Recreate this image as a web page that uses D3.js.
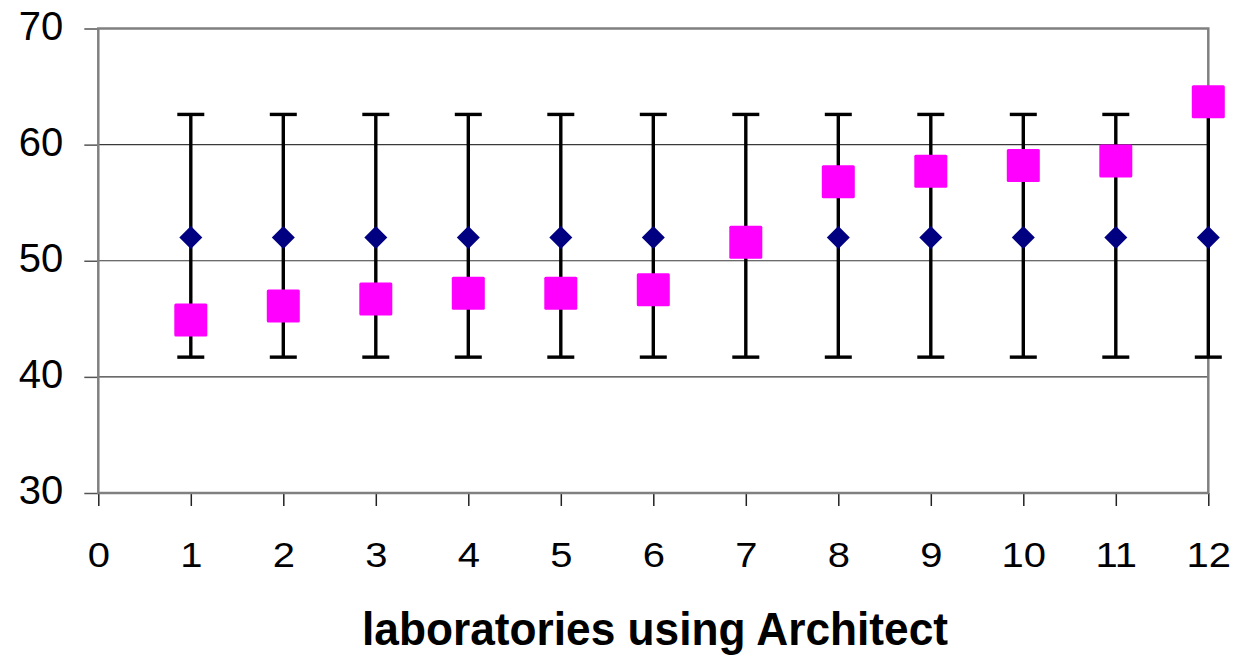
<!DOCTYPE html>
<html>
<head>
<meta charset="utf-8">
<script src="https://cdn.jsdelivr.net/npm/d3@7"></script>
<style>
  html, body { margin: 0; padding: 0; background: #ffffff; }
  svg { display: block; font-family: "Liberation Sans", Arial, sans-serif; }
</style>
</head>
<body>
<svg id="chart" width="1245" height="656"></svg>
<script>
// Laboratory results against the reference mean and its limits
const labs        = [1, 2, 3, 4, 5, 6, 7, 8, 9, 10, 11, 12];
const labValues   = [44.9, 46.1, 46.7, 47.2, 47.2, 47.5, 51.6, 56.8, 57.7, 58.2, 58.6, 63.7];
const meanValues  = [52.0, 52.0, 52.0, 52.0, 52.0, 52.0, 52.0, 52.0, 52.0, 52.0, 52.0, 52.0];
const upperLimits = [62.6, 62.6, 62.6, 62.6, 62.6, 62.6, 62.6, 62.6, 62.6, 62.6, 62.6, 62.6];
const lowerLimits = [41.7, 41.7, 41.7, 41.7, 41.7, 41.7, 41.7, 41.7, 41.7, 41.7, 41.7, 41.7];
const xTicks = [0, 1, 2, 3, 4, 5, 6, 7, 8, 9, 10, 11, 12];
const yTicks = [30, 40, 50, 60, 70];
const xTitle = "laboratories using Architect";

(function draw() {
  const svg = d3.select("#chart");
  const plotLeft = 98.3, plotRight = 1208.3, plotTop = 28.5, plotBottom = 493;

  const x = d3.scaleLinear().domain([0, 12]).range([plotLeft, plotRight]);
  const y = d3.scaleLinear().domain([30, 70]).range([plotBottom, plotTop]);

  // horizontal gridlines
  svg.append("g")
    .selectAll("line")
    .data(yTicks.filter(t => t > 30 && t < 70))
    .join("line")
    .attr("x1", plotLeft).attr("x2", plotRight)
    .attr("y1", d => y(d)).attr("y2", d => y(d))
    .attr("stroke", "#3a3a3a").attr("stroke-width", 1.2);

  // y axis
  const yAxis = svg.append("g")
    .attr("transform", `translate(${plotLeft},0)`)
    .call(d3.axisLeft(y).tickValues(yTicks).tickSize(14).tickPadding(21).tickFormat(d3.format("d")));
  yAxis.select(".domain").remove();
  yAxis.selectAll(".tick line").attr("stroke", "#555").attr("stroke-width", 1.5);
  yAxis.selectAll(".tick text")
    .attr("fill", "#000").attr("font-size", 40).attr("dy", "0.27em")
    .attr("font-family", "'Liberation Sans', Arial, sans-serif");

  // x axis
  const xAxis = svg.append("g")
    .attr("transform", `translate(0,${plotBottom})`)
    .call(d3.axisBottom(x).tickValues(xTicks).tickSize(13).tickFormat(d3.format("d")));
  xAxis.select(".domain").remove();
  xAxis.selectAll(".tick line").attr("stroke", "#222").attr("stroke-width", 1.5);
  xAxis.selectAll(".tick text")
    .attr("fill", "#000").attr("font-size", 40)
    .attr("font-family", "'Liberation Sans', Arial, sans-serif")
    .attr("y", 0).attr("dy", 0)
    .attr("transform", "translate(0,73.7) scale(1,0.86)");

  // plot frame
  svg.append("rect")
    .attr("x", plotLeft).attr("y", plotTop)
    .attr("width", plotRight - plotLeft).attr("height", plotBottom - plotTop)
    .attr("fill", "none").attr("stroke", "#808080").attr("stroke-width", 2.5);

  // limit bars
  const rows = labs.map((lab, i) => ({
    lab, value: labValues[i], mean: meanValues[i], hi: upperLimits[i], lo: lowerLimits[i]
  }));
  const bars = svg.append("g").selectAll("g").data(rows).join("g");
  bars.append("line")
    .attr("x1", d => x(d.lab)).attr("x2", d => x(d.lab))
    .attr("y1", d => y(d.hi)).attr("y2", d => y(d.lo))
    .attr("stroke", "#000").attr("stroke-width", 3.4);
  const capHalf = 13.5;
  ["hi", "lo"].forEach(k => {
    bars.append("line")
      .attr("x1", d => x(d.lab) - capHalf).attr("x2", d => x(d.lab) + capHalf)
      .attr("y1", d => y(d[k])).attr("y2", d => y(d[k]))
      .attr("stroke", "#000").attr("stroke-width", 3.4);
  });

  // mean markers (diamonds)
  svg.append("g").selectAll("path").data(rows).join("path")
    .attr("d", d => {
      const cx = x(d.lab), cy = y(d.mean), r = 11.5;
      return `M${cx},${cy - r}L${cx + r},${cy}L${cx},${cy + r}L${cx - r},${cy}Z`;
    })
    .attr("fill", "#000080");

  // laboratory results (squares)
  const s = 33;
  svg.append("g").selectAll("rect").data(rows).join("rect")
    .attr("x", d => x(d.lab) - s / 2).attr("y", d => y(d.value) - s / 2)
    .attr("width", s).attr("height", s).attr("rx", 1.5)
    .attr("fill", "#ff00ff");

  // x axis title
  svg.append("text")
    .attr("x", 655).attr("y", 645)
    .attr("text-anchor", "middle")
    .attr("font-size", 46).attr("font-weight", "bold")
    .attr("textLength", 586).attr("lengthAdjust", "spacingAndGlyphs")
    .attr("fill", "#000")
    .text(xTitle);
})();
</script>
</body>
</html>
